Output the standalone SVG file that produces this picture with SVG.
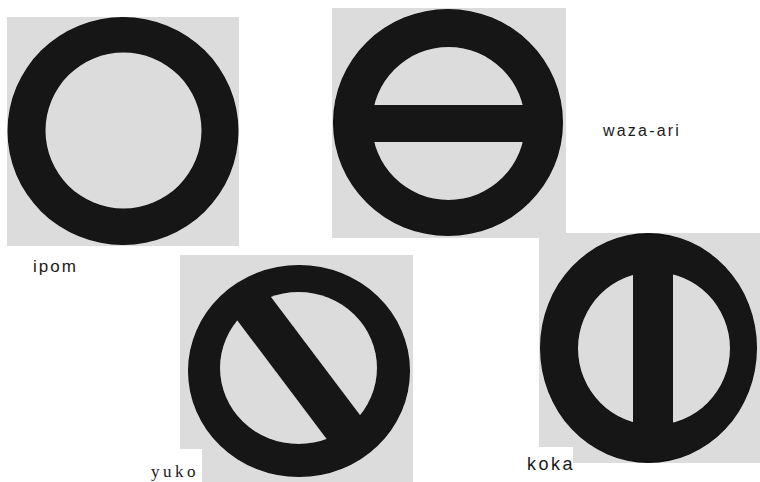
<svg xmlns="http://www.w3.org/2000/svg" width="760" height="482" viewBox="0 0 760 482">
  <defs>
    <filter id="soft" filterUnits="userSpaceOnUse" x="0" y="0" width="760" height="482">
      <feGaussianBlur stdDeviation="0.7"/>
    </filter>
    <clipPath id="clip-waza"><ellipse cx="448" cy="122.5" rx="114" ry="112.5"/></clipPath>
    <clipPath id="clip-koka"><ellipse cx="648.5" cy="348" rx="107.5" ry="114"/></clipPath>
    <mask id="mask-yuko" maskUnits="userSpaceOnUse" x="0" y="0" width="760" height="482">
      <rect x="0" y="0" width="760" height="482" fill="#ffffff"/>
      <ellipse cx="298.5" cy="368" rx="78.5" ry="76" fill="#000000"/>
      <rect x="-125" y="-20.5" width="250" height="41" fill="#ffffff" transform="translate(298.5 367.5) rotate(53)"/>
    </mask>
  </defs>
  <style>
    .panel { fill: #dcdcdc; }
    .ring { fill: #121212; fill-rule: evenodd; }
    .bar { fill: #121212; }
    .sans { font-family: "Liberation Sans", Arial, sans-serif; fill: #1a1a1a; }
    .serif { font-family: "Liberation Serif", "Times New Roman", serif; fill: #1a1a1a; }
    .blank { fill: #ffffff; }
  </style>
  <rect width="760" height="482" fill="#ffffff"/>

  <g id="ipom">
    <rect class="panel" x="7" y="17" width="232" height="229"/>
    <g filter="url(#soft)">
      <path class="ring" d="M7.5,131 a115.5,114 0 1,0 231,0 a115.5,114 0 1,0 -231,0 Z M45.5,130.5 a78,78 0 1,0 156,0 a78,78 0 1,0 -156,0 Z"/>
    </g>
    <text class="sans" x="33" y="272" font-size="17" letter-spacing="2">ipom</text>
  </g>

  <g id="waza-ari">
    <rect class="panel" x="332" y="8" width="234" height="230"/>
    <g filter="url(#soft)">
      <path class="ring" d="M333,122.5 a115,113.5 0 1,0 230,0 a115,113.5 0 1,0 -230,0 Z M372,123.5 a76.5,76.5 0 1,0 153,0 a76.5,76.5 0 1,0 -153,0 Z"/>
      <rect class="bar" x="333" y="105" width="230" height="37" clip-path="url(#clip-waza)"/>
    </g>
    <text class="sans" x="603" y="136" font-size="16" letter-spacing="2.2">waza-ari</text>
  </g>

  <g id="yuko">
    <rect class="panel" x="180" y="255" width="233" height="227"/>
    <g filter="url(#soft)">
      <ellipse class="bar" cx="299" cy="371" rx="111" ry="106" mask="url(#mask-yuko)"/>
    </g>
    <rect class="blank" x="140" y="449" width="62" height="33"/>
    <text class="serif" x="151" y="477" font-size="17" letter-spacing="3.5">yuko</text>
  </g>

  <g id="koka">
    <rect class="panel" x="539" y="233" width="221" height="230"/>
    <g filter="url(#soft)">
      <path class="ring" d="M540,348 a108.5,115 0 1,0 217,0 a108.5,115 0 1,0 -217,0 Z M578,348.5 a76,76.5 0 1,0 152,0 a76,76.5 0 1,0 -152,0 Z"/>
      <rect class="bar" x="633" y="233" width="40" height="230" clip-path="url(#clip-koka)"/>
    </g>
    <rect class="blank" x="515" y="447" width="58" height="35"/>
    <text class="sans" x="527" y="470" font-size="18" letter-spacing="2.5">koka</text>
  </g>
</svg>
